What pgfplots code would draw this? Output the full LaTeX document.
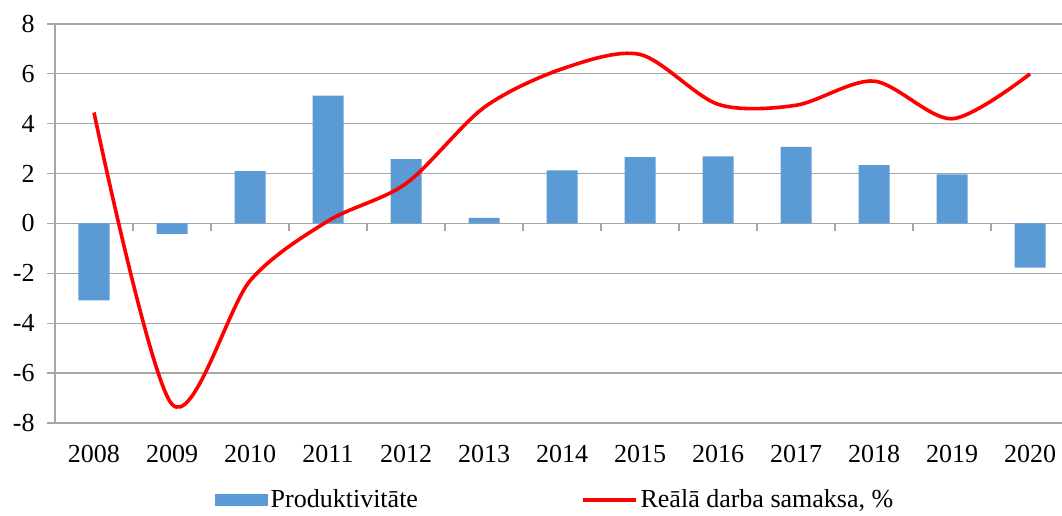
\documentclass[border=0pt]{standalone}
\usepackage{pgfplots}
\pgfplotsset{compat=1.18}
\usepackage{fontspec}
\setmainfont{Liberation Serif}
\definecolor{barblue}{HTML}{5B9BD5}
\definecolor{gridc}{HTML}{A6A6A6}
\begin{document}
\begin{tikzpicture}[font=\fontsize{13}{15}\selectfont]
\begin{axis}[name=ax,
  scale only axis, width=503.5pt, height=199.5pt,
  xmin=-0.5, xmax=12.41, ymin=-8, ymax=8,
  axis x line*=bottom, axis y line*=left,
  x axis line style={draw=none}, y axis line style={gridc, line width=0.6pt},
  axis line style={-},
  xtick={0,1,2,3,4,5,6,7,8,9,10,11,12},
  xticklabels={2008,2009,2010,2011,2012,2013,2014,2015,2016,2017,2018,2019,2020},
  x tick style={draw=none},
  ytick={-8,-6,-4,-2,0,2,4,6,8},
  ymajorgrids, grid style={gridc, line width=0.6pt},
  tick align=outside, major tick length=4pt,
  y tick style={gridc, line width=0.6pt},
  /pgf/number format/assume math mode=true,
  yticklabel style={xshift=-2.7pt},
  xticklabel style={yshift=-3.4pt},
  legend style={at={(0.497,-0.193)}, anchor=center, draw=none, legend columns=2,
    /tikz/column 2/.style={column sep=80pt},
    nodes={inner xsep=1.5pt}},
]
\addplot[ybar, bar width=15.5pt, fill=barblue, draw=none,
  legend image code/.code={\fill[barblue] (0pt,-3pt) rectangle (26.5pt,3pt);}]
  coordinates {(0,-3.08) (1,-0.42) (2,2.10) (3,5.13) (4,2.58) (5,0.22) (6,2.13)
               (7,2.66) (8,2.69) (9,3.07) (10,2.34) (11,1.97) (12,-1.77)};
\addlegendentry{Produktivitāte}
\addplot[red, line width=1.8pt, smooth, mark=none,
  legend image code/.code={\draw[red, line width=1.8pt] (0pt,0pt) -- (26.5pt,0pt);}]
  coordinates {(0,4.45) (1,-7.25) (2,-2.3) (3,0.1) (4,1.6) (5,4.65) (6,6.2)
               (7,6.78) (8,4.78) (9,4.74) (10,5.71) (11,4.2) (12,6.0)};
\addlegendentry{Reālā darba samaksa, \%}
\pgfplotsinvokeforeach{-0.5,0.5,1.5,2.5,3.5,4.5,5.5,6.5,7.5,8.5,9.5,10.5,11.5}{
  \draw[gridc, line width=0.6pt] (axis cs:#1,0) -- ([yshift=-4pt]axis cs:#1,0);
}
\end{axis}
\pgfresetboundingbox
\path ([shift={(-27.5pt,-46.5pt)}]ax.south west) rectangle ([shift={(0pt,12pt)}]ax.north east);
\end{tikzpicture}
\end{document}
